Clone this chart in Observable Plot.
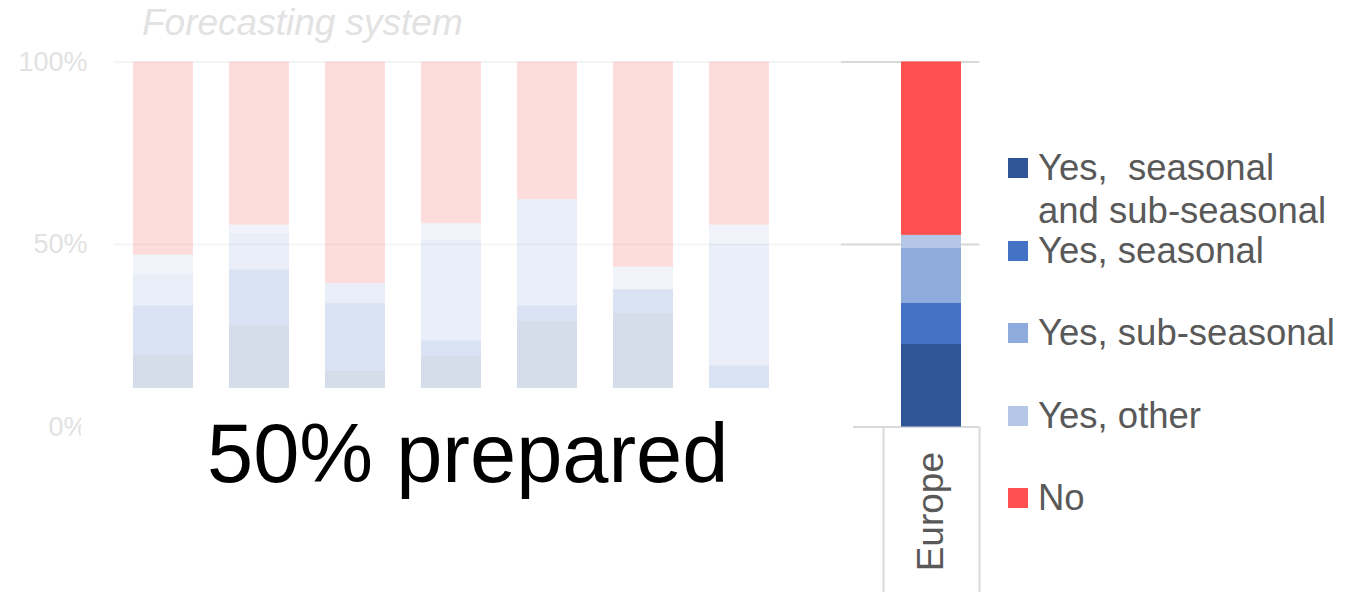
<!DOCTYPE html>
<html>
<head>
<meta charset="utf-8">
<script src="https://cdn.jsdelivr.net/npm/d3@7"></script>
<script src="https://cdn.jsdelivr.net/npm/@observablehq/plot@0.6"></script>
<style>
  body { margin: 0; background: #fff; font-family: "Liberation Sans", Arial, sans-serif; }
  #wrap { position: relative; width: 1365px; height: 592px; overflow: hidden; background: #fff; }
  #chart { position: absolute; left: 0; top: 0; }
  .title { position: absolute; left: 142px; top: 4px; font-size: 37px; line-height: 37px; font-style: italic; color: #e2e2e2; white-space: nowrap; }
  .cover { position: absolute; left: 81px; top: 388px; width: 772px; height: 204px; background: #fff; }
  .big { position: absolute; left: 207px; top: 412px; font-size: 83px; line-height: 83px; color: #000; white-space: nowrap; }
  .leg-sw { position: absolute; width: 20px; height: 20px; }
  .leg-tx { position: absolute; font-size: 36.5px; line-height: 43px; color: #595959; white-space: pre; }
</style>
</head>
<body>
<div id="wrap">
  <div id="chart"></div>
</div>
<script>
// ---- data (bottom → top stacking order) ----
const regions = ["Region 1", "Region 2", "Region 3", "Region 4", "Region 5", "Region 6", "Region 7", "Europe"];
const categories = ["Yes, seasonal and sub-seasonal", "Yes, seasonal", "Yes, sub-seasonal", "Yes, other", "No"];
const legendLabels = ["Yes,  seasonal\nand sub-seasonal", "Yes, seasonal", "Yes, sub-seasonal", "Yes, other", "No"];
const colors = ["#2f5597", "#4472c4", "#8faadc", "#b4c7e7", "#ff5050"];

const seasonalAndSub = [19.6, 27.9, 15.2, 19.3, 29.0, 31.2, 10.0, 22.6];
const seasonalOnly   = [13.6, 15.1, 18.6,  4.3,  4.2,  6.4,  6.7, 11.4];
const subSeasonal    = [ 8.5,  9.9,  5.5, 27.5, 29.1,  0.0, 33.3, 14.9];
const otherYes       = [ 5.4,  2.4,  0.0,  4.6,  0.0,  6.2,  5.3,  3.6];
const noSystem       = [52.9, 44.7, 60.7, 44.3, 37.7, 56.2, 44.7, 47.5];

const yTicks = [0, 50, 100];
const titleText = "Forecasting system";
const bigText = "50% prepared";
const highlight = "Europe";

// ---- build table ----
const series = [seasonalAndSub, seasonalOnly, subSeasonal, otherYes, noSystem];
const rows = [];
regions.forEach((r, i) => categories.forEach((c, j) => rows.push({region: r, category: c, value: series[j][i]})));
const xDomain = [...regions.slice(0, 7), "gap", highlight];

const font = "'Liberation Sans', Arial, sans-serif";

const chart = Plot.plot({
  width: 1365,
  height: 592,
  marginLeft: 114,
  marginRight: 385,
  marginTop: 61.5,
  marginBottom: 165.5,
  style: {fontFamily: font, background: "transparent", overflow: "visible"},
  x: {type: "band", domain: xDomain, paddingInner: 0.377, paddingOuter: 0.187, axis: null},
  y: {domain: [0, 100], axis: null},
  color: {domain: categories, range: colors},
  marks: [
    Plot.ruleY([50, 100], {stroke: "#f5f5f5", strokeWidth: 2}),
    Plot.tickY(yTicks, {y: d => d, x: () => highlight, stroke: "#d9d9d9", strokeWidth: 2, insetLeft: -60, insetRight: -18}),
    Plot.barY(rows.filter(d => d.region !== highlight), {x: "region", y: "value", fill: "category", fillOpacity: 0.2}),
    Plot.barY(rows.filter(d => d.region === highlight), {x: "region", y: "value", fill: "category"}),
    Plot.ruleX([highlight], {x: d => d, dx: -48, y1: 0, y2: -46, stroke: "#d9d9d9", strokeWidth: 2}),
    Plot.ruleX([highlight], {x: d => d, dx: 48, y1: 0, y2: -46, stroke: "#d9d9d9", strokeWidth: 2}),
    Plot.axisY({ticks: yTicks, tickFormat: d => d + "%", tickSize: 0, tickPadding: 27, fontSize: 27, color: "#e2e2e2", fill: "#e2e2e2", label: null}),
    Plot.axisX([highlight], {tickRotate: -90, tickSize: 0, tickPadding: 25, fontSize: 37, color: "#595959", fill: "#595959", label: null})
  ]
});
document.getElementById("chart").appendChild(chart);

const wrap = document.getElementById("wrap");
function add(cls, text, style) {
  const d = document.createElement("div");
  d.className = cls;
  if (text != null) d.textContent = text;
  Object.assign(d.style, style || {});
  wrap.appendChild(d);
  return d;
}
add("title", titleText);
add("cover", null);
add("big", bigText);

// legend
const baseline0 = 180, stepY = 82.5;
categories.forEach((c, i) => {
  const b = baseline0 + i * stepY;
  add("leg-sw", null, {left: "1008px", top: (b - 22) + "px", background: colors[i]});
  add("leg-tx", legendLabels[i], {left: "1038px", top: (b - 34) + "px"});
});
</script>
</body>
</html>
